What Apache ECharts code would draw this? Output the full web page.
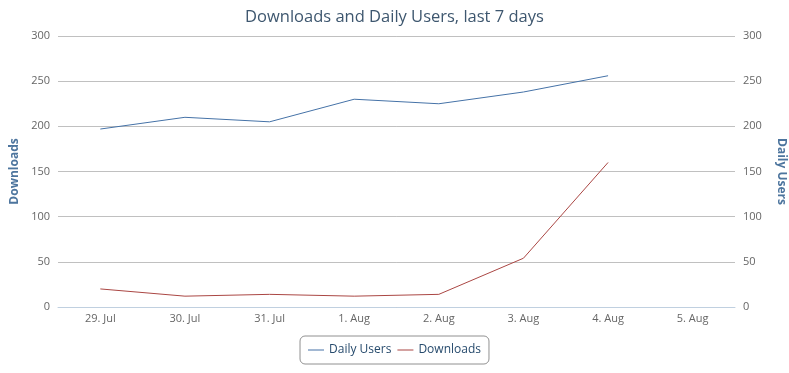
<!DOCTYPE html>
<html><head><meta charset="utf-8">
<script src="https://cdn.jsdelivr.net/npm/echarts@6/dist/echarts.min.js"></script>
<style>html,body{margin:0;padding:0;background:#fff}#c{width:789px;height:373px}</style>
</head><body><div id="c"></div>
<script>
const categories = ['29. Jul','30. Jul','31. Jul','1. Aug','2. Aug','3. Aug','4. Aug','5. Aug'];
const dailyUsers = [197, 210, 205, 230, 225, 238, 256, null];
const downloads = [20, 12, 14, 12, 14, 54, 160, null];
const FONT = '"Open Sans", sans-serif';
const chart = echarts.init(document.getElementById('c'), null, {renderer:'canvas'});
const yAxisCommon = {
  type:'value', min:0, max:300, interval:50,
  axisLine:{show:false}, axisTick:{show:false},
  splitLine:{lineStyle:{color:'#C0C0C0', width:1}},
  axisLabel:{color:'#666', fontSize:11, fontFamily:FONT, margin:8},
  nameLocation:'middle',
  nameTextStyle:{color:'#4d759e', fontWeight:'bold', fontSize:12, fontFamily:FONT}
};
chart.setOption({
  animation:false,
  title:{text:'Downloads and Daily Users, last 7 days', left:'center', top:4,
    textStyle:{color:'#3E576F', fontSize:16.5, fontWeight:'normal', fontFamily:FONT}},
  grid:{left:58, right:54, top:36, bottom:66, containLabel:false, outerBoundsMode:'none'},
  legend:{bottom:9, left:'center', data:['Daily Users','Downloads'],
    borderColor:'#909090', borderWidth:1, borderRadius:5, padding:[8,8,8,8],
    itemWidth:16, itemHeight:2, itemGap:6, icon:'rect',
    textStyle:{color:'#274b6d', fontSize:12, fontFamily:FONT}},
  xAxis:{type:'category', data:categories, boundaryGap:true,
    axisLine:{lineStyle:{color:'#C0D0E0'}},
    axisTick:{alignWithLabel:true, length:5, lineStyle:{color:'#C0D0E0'}},
    axisLabel:{color:'#666', fontSize:11, fontFamily:FONT, margin:6}},
  yAxis:[
    Object.assign({}, yAxisCommon, {name:'Downloads', position:'left', nameGap:36}),
    Object.assign({}, yAxisCommon, {name:'Daily Users', position:'right', nameRotate:-90, nameGap:40})
  ],
  series:[
    {name:'Daily Users', type:'line', yAxisIndex:1, data:dailyUsers, showSymbol:false, symbol:'none',
      lineStyle:{color:'#4572A7', width:1}, itemStyle:{color:'#4572A7', opacity:0.5}},
    {name:'Downloads', type:'line', yAxisIndex:0, data:downloads, showSymbol:false, symbol:'none',
      lineStyle:{color:'#AA4643', width:1}, itemStyle:{color:'#AA4643', opacity:0.5}}
  ]
});
</script></body></html>
